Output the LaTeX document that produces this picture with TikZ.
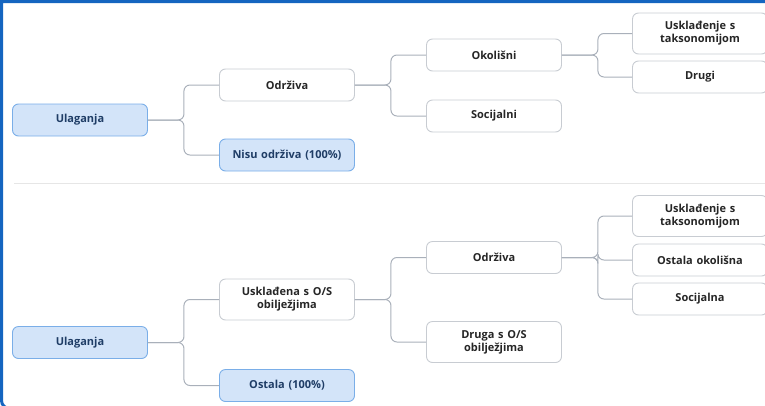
\documentclass[tikz,border=0pt]{standalone}
\usepackage{fontspec}
\setmainfont{Open Sans}
\definecolor{frameblue}{HTML}{1565C0}
\definecolor{selfill}{HTML}{D3E4F9}
\definecolor{seldraw}{HTML}{7AAEE8}
\definecolor{seltext}{HTML}{1F3D66}
\definecolor{boxdraw}{HTML}{C8CCD2}
\definecolor{linkgray}{HTML}{A9B0BA}
\definecolor{divgray}{HTML}{E6E6E6}
\begin{document}
\begin{tikzpicture}[x=1pt, y=-1pt,
    node_style/.style={rectangle, rounded corners=6pt, draw=boxdraw, fill=white, line width=0.9pt,
        minimum width=135pt, minimum height=32pt, text width=128pt, align=center, inner sep=2pt,
        text=black!85, font=\fontsize{11}{13}\selectfont\bfseries},
    selected_node_style/.style={node_style, draw=seldraw, fill=selfill, text=seltext},
    edge_style/.style={draw=linkgray, line width=1pt, rounded corners=6pt},
    frame_style/.style={draw=frameblue, line width=3pt}]

    \useasboundingbox (0,0) rectangle (765,405);

    % top tree
    \node[selected_node_style] (u1) at (80,120) {Ulaganja};
    \node[node_style] (od1) at (287,85) {Održiva};
    \node[selected_node_style] (no1) at (287,155) {Nisu održiva (100\%)};
    \node[node_style] (ok1) at (494,55) {Okolišni};
    \node[node_style] (so1) at (494,116) {Socijalni};
    \node[node_style, minimum height=41pt] (ut1) at (700,33.5) {Usklađenje s\\taksonomijom};
    \node[node_style] (dr1) at (700,77) {Drugi};

    \draw[edge_style] (u1.east) -- ++(36,0) |- (od1.west);
    \draw[edge_style] (u1.east) -- ++(36,0) |- (no1.west);
    \draw[edge_style] (od1.east) -- ++(36,0) |- (ok1.west);
    \draw[edge_style] (od1.east) -- ++(36,0) |- (so1.west);
    \draw[edge_style] (ok1.east) -- ++(36,0) |- (ut1.west);
    \draw[edge_style] (ok1.east) -- ++(36,0) |- (dr1.west);

    \draw[divgray, line width=0.8pt] (14,183.5) -- (765,183.5);

    % bottom tree
    \node[selected_node_style] (u2) at (80,342.5) {Ulaganja};
    \node[node_style, minimum height=41pt] (us2) at (287,299.5) {Usklađena s O/S\\obilježjima};
    \node[selected_node_style] (os2) at (287,385.5) {Ostala (100\%)};
    \node[node_style] (od2) at (494,257.5) {Održiva};
    \node[node_style, minimum height=41pt] (dg2) at (494,342) {Druga s O/S\\obilježjima};
    \node[node_style, minimum height=41pt] (ut2) at (700,216) {Usklađenje s\\taksonomijom};
    \node[node_style] (oo2) at (700,260) {Ostala okolišna};
    \node[node_style] (sc2) at (700,299) {Socijalna};

    \draw[edge_style] (u2.east) -- ++(36,0) |- (us2.west);
    \draw[edge_style] (u2.east) -- ++(36,0) |- (os2.west);
    \draw[edge_style] (us2.east) -- ++(36,0) |- (od2.west);
    \draw[edge_style] (us2.east) -- ++(36,0) |- (dg2.west);
    \draw[edge_style] (od2.east) -- ++(36,0) |- (ut2.west);
    \draw[edge_style] (od2.east) -- ++(36,0) |- (oo2.west);
    \draw[edge_style] (od2.east) -- ++(36,0) |- (sc2.west);

    % frame
    \draw[frame_style] (800,1.5) -- (1.5,1.5) -- (1.5,350) [rounded corners=8pt] -- (1.5,408.5) -- (800,408.5);
\end{tikzpicture}
\end{document}
